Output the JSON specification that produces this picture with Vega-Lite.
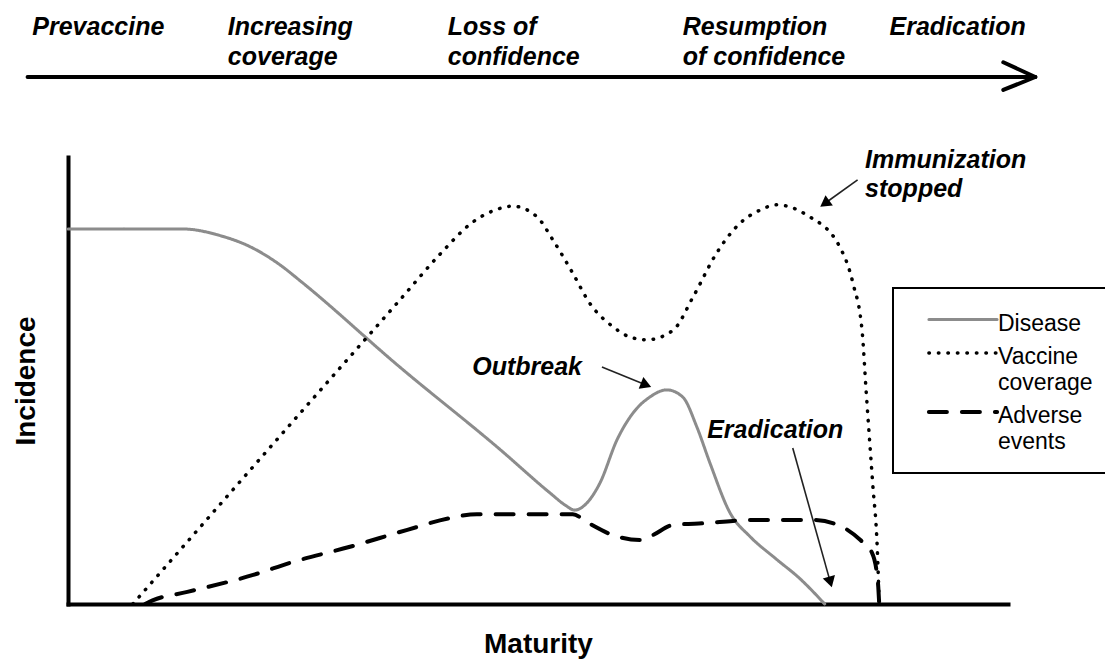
{
  "$schema": "https://vega.github.io/schema/vega-lite/v6.json",
  "width": 940,
  "height": 447,
  "autosize": {"type": "none"},
  "padding": {"left": 68, "top": 157, "right": 97, "bottom": 55},
  "config": {
    "view": {"stroke": null},
    "font": "Liberation Sans",
    "legend": {
      "orient": "none",
      "legendX": 825,
      "legendY": 131,
      "symbolType": "M-3.1,0L3.1,0",
      "symbolSize": 484,
      "symbolOffset": 38,
      "labelFont": "Liberation Sans",
      "labelFontSize": 23,
      "labelColor": "black",
      "labelOffset": 22,
      "labelLimit": 400,
      "padding": 19,
      "rowPadding": 4,
      "strokeColor": "black"
    }
  },
  "datasets": {
    "curves": [
      {"series": "Disease", "x": 0, "y": 83.9},
      {"series": "Disease", "x": 12.2, "y": 83.9},
      {"series": "Disease", "x": 16.2, "y": 82.4},
      {"series": "Disease", "x": 19.4, "y": 79.9},
      {"series": "Disease", "x": 22.6, "y": 75.8},
      {"series": "Disease", "x": 24.7, "y": 72.3},
      {"series": "Disease", "x": 35.3, "y": 53.0},
      {"series": "Disease", "x": 46.0, "y": 34.5},
      {"series": "Disease", "x": 51.3, "y": 24.8},
      {"series": "Disease", "x": 52.9, "y": 22.1},
      {"series": "Disease", "x": 53.9, "y": 21.0},
      {"series": "Disease", "x": 55.2, "y": 22.6},
      {"series": "Disease", "x": 56.6, "y": 27.1},
      {"series": "Disease", "x": 58.4, "y": 36.7},
      {"series": "Disease", "x": 60.1, "y": 42.7},
      {"series": "Disease", "x": 61.9, "y": 46.3},
      {"series": "Disease", "x": 63.7, "y": 47.9},
      {"series": "Disease", "x": 65.4, "y": 46.3},
      {"series": "Disease", "x": 66.9, "y": 39.6},
      {"series": "Disease", "x": 68.3, "y": 31.5},
      {"series": "Disease", "x": 70.4, "y": 20.5},
      {"series": "Disease", "x": 72.6, "y": 15.0},
      {"series": "Disease", "x": 75.2, "y": 10.3},
      {"series": "Disease", "x": 77.9, "y": 5.6},
      {"series": "Disease", "x": 80.5, "y": 0},
      {"series": "Vaccine coverage", "x": 6.9, "y": 0},
      {"series": "Vaccine coverage", "x": 24.7, "y": 42.7},
      {"series": "Vaccine coverage", "x": 35.3, "y": 68.0},
      {"series": "Vaccine coverage", "x": 39.6, "y": 78.3},
      {"series": "Vaccine coverage", "x": 43.1, "y": 85.5},
      {"series": "Vaccine coverage", "x": 45.4, "y": 88.1},
      {"series": "Vaccine coverage", "x": 47.3, "y": 89.0},
      {"series": "Vaccine coverage", "x": 49.9, "y": 86.6},
      {"series": "Vaccine coverage", "x": 51.6, "y": 81.4},
      {"series": "Vaccine coverage", "x": 53.7, "y": 74.0},
      {"series": "Vaccine coverage", "x": 55.5, "y": 67.3},
      {"series": "Vaccine coverage", "x": 58.0, "y": 62.0},
      {"series": "Vaccine coverage", "x": 59.8, "y": 59.7},
      {"series": "Vaccine coverage", "x": 61.6, "y": 59.1},
      {"series": "Vaccine coverage", "x": 64.4, "y": 61.3},
      {"series": "Vaccine coverage", "x": 66.5, "y": 68.7},
      {"series": "Vaccine coverage", "x": 69.0, "y": 78.5},
      {"series": "Vaccine coverage", "x": 71.5, "y": 85.2},
      {"series": "Vaccine coverage", "x": 73.6, "y": 88.1},
      {"series": "Vaccine coverage", "x": 75.4, "y": 89.3},
      {"series": "Vaccine coverage", "x": 78.6, "y": 87.0},
      {"series": "Vaccine coverage", "x": 82.1, "y": 79.9},
      {"series": "Vaccine coverage", "x": 83.5, "y": 71.8},
      {"series": "Vaccine coverage", "x": 84.5, "y": 60.6},
      {"series": "Vaccine coverage", "x": 84.9, "y": 47.9},
      {"series": "Vaccine coverage", "x": 85.6, "y": 27.1},
      {"series": "Vaccine coverage", "x": 86.1, "y": 12.1},
      {"series": "Vaccine coverage", "x": 86.3, "y": 0},
      {"series": "Adverse events", "x": 8.2, "y": 0},
      {"series": "Adverse events", "x": 9.0, "y": 0.8},
      {"series": "Adverse events", "x": 12.7, "y": 2.7},
      {"series": "Adverse events", "x": 19.7, "y": 6.5},
      {"series": "Adverse events", "x": 23.9, "y": 9.4},
      {"series": "Adverse events", "x": 30.0, "y": 12.8},
      {"series": "Adverse events", "x": 36.1, "y": 16.6},
      {"series": "Adverse events", "x": 40.6, "y": 19.2},
      {"series": "Adverse events", "x": 43.5, "y": 20.1},
      {"series": "Adverse events", "x": 49.5, "y": 20.1},
      {"series": "Adverse events", "x": 53.7, "y": 20.1},
      {"series": "Adverse events", "x": 55.2, "y": 18.3},
      {"series": "Adverse events", "x": 58.0, "y": 15.4},
      {"series": "Adverse events", "x": 60.9, "y": 14.3},
      {"series": "Adverse events", "x": 62.2, "y": 15.4},
      {"series": "Adverse events", "x": 64.4, "y": 17.7},
      {"series": "Adverse events", "x": 68.0, "y": 18.1},
      {"series": "Adverse events", "x": 72.6, "y": 18.8},
      {"series": "Adverse events", "x": 79.3, "y": 18.8},
      {"series": "Adverse events", "x": 82.4, "y": 17.2},
      {"series": "Adverse events", "x": 84.3, "y": 14.3},
      {"series": "Adverse events", "x": 85.5, "y": 11.6},
      {"series": "Adverse events", "x": 86.0, "y": 7.6},
      {"series": "Adverse events", "x": 86.2, "y": 3.8},
      {"series": "Adverse events", "x": 86.3, "y": 0}
    ],
    "phases": [
      {"label": "Prevaccine", "x": -3.8, "y": 127.3},
      {"label": "Increasing\ncoverage", "x": 17.0, "y": 127.3},
      {"label": "Loss of\nconfidence", "x": 40.4, "y": 127.3},
      {"label": "Resumption\nof confidence", "x": 65.4, "y": 127.3},
      {"label": "Eradication", "x": 87.4, "y": 127.3}
    ],
    "notes": [
      {"label": "Outbreak", "x": 43.0, "y": 51.2},
      {"label": "Eradication", "x": 68.0, "y": 37.1},
      {"label": "Immunization\nstopped", "x": 84.8, "y": 97.5}
    ],
    "timeline": [
      {"x": -4.3, "y": 117.9, "x2": 102.9, "y2": 117.9},
      {"x": 99.5, "y": 121.2, "x2": 102.9, "y2": 117.9},
      {"x": 99.5, "y": 115.0, "x2": 102.9, "y2": 117.9}
    ],
    "pointers": [
      {"x": 56.8, "y": 53.0, "x2": 61.5, "y2": 49.0},
      {"x": 84.0, "y": 94.9, "x2": 80.5, "y2": 89.6},
      {"x": 77.1, "y": 34.9, "x2": 81.1, "y2": 4.9}
    ]
  },
  "encoding": {
    "x": {
      "field": "x",
      "type": "quantitative",
      "scale": {"domain": [0, 100], "nice": false, "zero": false},
      "axis": {
        "title": "Maturity",
        "labels": false,
        "ticks": false,
        "grid": false,
        "domainColor": "black",
        "domainWidth": 4,
        "domainCap": "square",
        "titleFont": "Liberation Sans",
        "titleFontSize": 28,
        "titleFontWeight": "bold",
        "titleColor": "black",
        "titlePadding": 26
      }
    },
    "y": {
      "field": "y",
      "type": "quantitative",
      "scale": {"domain": [0, 100], "nice": false, "zero": false},
      "axis": {
        "title": "Incidence",
        "labels": false,
        "ticks": false,
        "grid": false,
        "domainColor": "black",
        "domainWidth": 4,
        "domainCap": "square",
        "titleFont": "Liberation Sans",
        "titleFontSize": 28,
        "titleFontWeight": "bold",
        "titleColor": "black",
        "titlePadding": 28
      }
    }
  },
  "layer": [
    {
      "data": {"name": "curves"},
      "mark": {"type": "line", "interpolate": "monotone", "strokeCap": "round", "strokeJoin": "round"},
      "encoding": {
        "color": {
          "field": "series",
          "type": "nominal",
          "scale": {"domain": ["Disease", "Vaccine coverage", "Adverse events"], "range": ["#8c8c8c", "black", "black"]},
          "legend": {
            "title": null,
            "labelExpr": "datum.label == 'Vaccine coverage' ? ['Vaccine', 'coverage'] : datum.label == 'Adverse events' ? ['Adverse', 'events'] : datum.label",
            "encode": {
              "symbols": {"update": {"strokeCap": {"value": "round"}}},
              "labels": {"update": {"lineHeight": {"value": 26}, "dy": {"value": 4}}},
              "legend": {"update": {"strokeWidth": {"value": 2}}}
            }
          }
        },
        "strokeDash": {
          "field": "series",
          "type": "nominal",
          "scale": {"domain": ["Disease", "Vaccine coverage", "Adverse events"], "range": [[1, 0], [0.5, 9], [18, 15]]},
          "legend": {"title": null}
        },
        "strokeWidth": {
          "field": "series",
          "type": "nominal",
          "scale": {"domain": ["Disease", "Vaccine coverage", "Adverse events"], "range": [3, 4, 4.5]},
          "legend": {"title": null}
        }
      }
    },
    {
      "data": {"name": "timeline"},
      "mark": {"type": "rule", "color": "black", "strokeWidth": 4, "strokeCap": "round"},
      "encoding": {"x2": {"field": "x2"}, "y2": {"field": "y2"}}
    },
    {
      "data": {"name": "pointers"},
      "mark": {"type": "rule", "color": "#222222", "strokeWidth": 1.6},
      "encoding": {"x2": {"field": "x2"}, "y2": {"field": "y2"}}
    },
    {
      "data": {"values": [{"x": 61.5, "y": 49.0}]},
      "mark": {"type": "point", "shape": "triangle-right", "filled": true, "color": "black", "opacity": 1, "size": 160, "angle": 21.8}
    },
    {
      "data": {"values": [{"x": 80.5, "y": 89.6}]},
      "mark": {"type": "point", "shape": "triangle-right", "filled": true, "color": "black", "opacity": 1, "size": 160, "angle": 144.6}
    },
    {
      "data": {"values": [{"x": 81.1, "y": 4.9}]},
      "mark": {"type": "point", "shape": "triangle-right", "filled": true, "color": "black", "opacity": 1, "size": 160, "angle": 74.4}
    },
    {
      "data": {"name": "phases"},
      "mark": {"type": "text", "align": "left", "baseline": "alphabetic", "font": "Liberation Sans", "fontSize": 25, "fontWeight": "bold", "fontStyle": "italic", "lineBreak": "\n", "lineHeight": 30, "color": "black"},
      "encoding": {"text": {"field": "label"}}
    },
    {
      "data": {"name": "notes"},
      "mark": {"type": "text", "align": "left", "baseline": "alphabetic", "font": "Liberation Sans", "fontSize": 25, "fontWeight": "bold", "fontStyle": "italic", "lineBreak": "\n", "lineHeight": 29, "color": "black"},
      "encoding": {"text": {"field": "label"}}
    }
  ]
}
